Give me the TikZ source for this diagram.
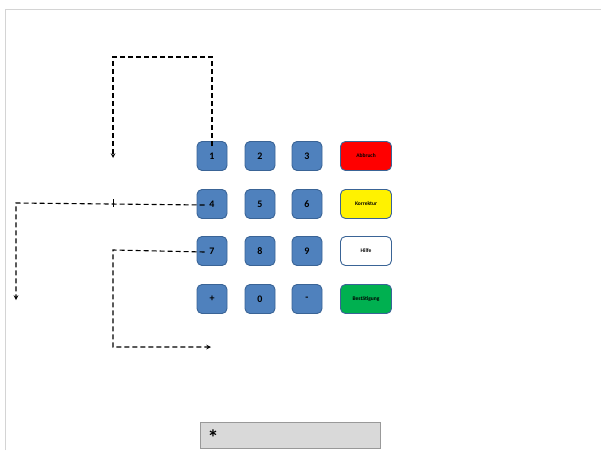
\documentclass[tikz,border=0pt]{standalone}
\usepackage{fontspec}
\setmainfont{Carlito}
\definecolor{keyblue}{HTML}{4F81BD}
\definecolor{keyline}{HTML}{3A6496}
\definecolor{okgreen}{HTML}{00B050}
\definecolor{boxgray}{HTML}{D9D9D9}
\definecolor{pagegray}{HTML}{D4D4D4}
\begin{document}
\begin{tikzpicture}[x=1pt,y=-1pt,
    key/.style={draw=keyline, fill=keyblue, line width=0.9pt, rounded corners=5pt,
        minimum width=30pt, minimum height=29pt, font=\bfseries\fontsize{10}{11}\selectfont},
    fkey/.style={draw=keyline, line width=0.9pt, rounded corners=5pt,
        minimum width=51pt, minimum height=29pt, font=\bfseries\fontsize{5.5}{6}\selectfont},
    path/.style={dash pattern=on 5pt off 3pt, line width=1.1pt, >=stealth}]
    \useasboundingbox (0,0) rectangle (601,450);
    % page edges
    \draw[pagegray, line width=0.8pt] (5,450) -- (5,9) -- (601,9);
    % keypad
    \node[key] (k1) at (212,156) {1};
    \node[key] (k2) at (260,156) {2};
    \node[key] (k3) at (307,156) {3};
    \node[key] (k4) at (212,204) {4};
    \node[key] (k5) at (260,204) {5};
    \node[key] (k6) at (307,204) {6};
    \node[key] (k7) at (212,251) {7};
    \node[key] (k8) at (260,251) {8};
    \node[key] (k9) at (307,251) {9};
    \node[key] (kplus) at (212,299) {+};
    \node[key] (k0) at (260,299) {0};
    \node[key] (kminus) at (307,299) {-};
    \node[fkey, fill=red] (abbruch) at (366,156) {Abbruch};
    \node[fkey, fill=yellow] (korrektur) at (366,204) {Korrektur};
    \node[fkey, fill=white] (hilfe) at (366,251) {Hilfe};
    \node[fkey, fill=okgreen] (ok) at (366,299) {Bestätigung};
    % display
    \node[draw=gray!80, fill=boxgray, line width=0.9pt, minimum width=180pt, minimum height=26pt] (display) at (290,435) {};
    \node[inner sep=0pt, font=\bfseries\fontsize{22}{22}\selectfont] (star) at (213,438) {*};
    % movement paths
    \coordinate (up1) at (212,57);
    \coordinate (up2) at (113,57);
    \coordinate (end1) at (113,158);
    \draw[path, ->] ([yshift=-5pt]k1.north) -- (up1) -- (up2) -- (end1);
    \coordinate (left1) at (16,203);
    \coordinate (end2) at (16,300);
    \coordinate (tick) at (113,203);
    \draw[path, ->] ([xshift=8pt,yshift=-1pt]k4.west) -- (left1) -- (end2);
    \draw[line width=0.9pt] ([yshift=-4pt]tick) -- ([yshift=4pt]tick);
    \coordinate (left2) at (113,250);
    \coordinate (down2) at (113,347);
    \coordinate (end3) at (211,347);
    \draw[path, ->] ([xshift=8pt,yshift=-1pt]k7.west) -- (left2) -- (down2) -- (end3);
\end{tikzpicture}
\end{document}
